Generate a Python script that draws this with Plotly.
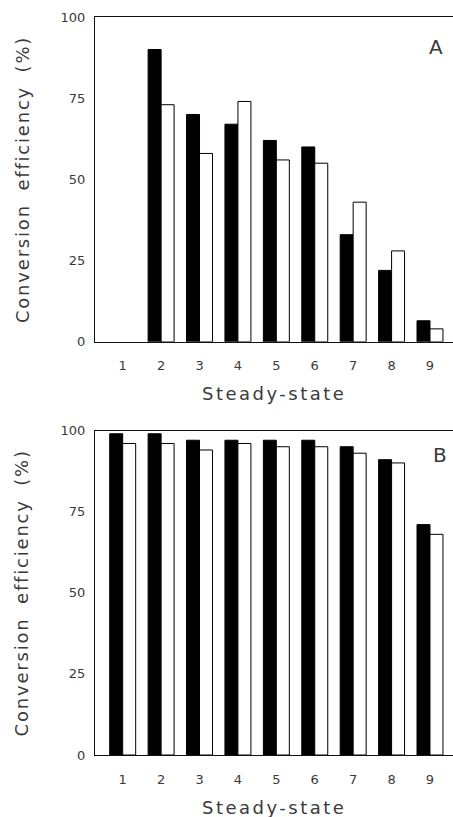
import plotly.graph_objects as go

steady_states = [1, 2, 3, 4, 5, 6, 7, 8, 9]
tick_labels = ["1", "2", "3", "4", "5", "6", "7", "8", "9"]
y_ticks = [0, 25, 50, 75, 100]

# Panel A
a_black = [None, 90, 70, 67, 62, 60, 33, 22, 6.5]
a_white = [None, 73, 58, 74, 56, 55, 43, 28, 4]
# Panel B
b_black = [99, 99, 97, 97, 97, 97, 95, 91, 71]
b_white = [96, 96, 94, 96, 95, 95, 93, 90, 68]

FONT = "DejaVu Sans"
TXT = "#3a3a3a"

fig = go.Figure()

def add_pair(black, white, xa, ya):
    fig.add_trace(go.Bar(x=steady_states, y=black, xaxis=xa, yaxis=ya,
                         marker=dict(color="black", line=dict(color="black", width=1)),
                         showlegend=False))
    fig.add_trace(go.Bar(x=steady_states, y=white, xaxis=xa, yaxis=ya,
                         marker=dict(color="white", line=dict(color="black", width=1)),
                         showlegend=False))

add_pair(a_black, a_white, "x", "y")
add_pair(b_black, b_white, "x2", "y2")

xcommon = dict(range=[0.279, 9.599], tickvals=steady_states, ticktext=tick_labels,
               showline=True, linecolor="#111", linewidth=1, mirror=True,
               showgrid=False, zeroline=False, ticks="", ticklabelstandoff=12,
               tickfont=dict(family=FONT, size=13, color=TXT))
ycommon = dict(range=[0, 100], tickvals=y_ticks,
               showline=True, linecolor="#111", linewidth=1, mirror=False,
               showgrid=False, zeroline=False, ticks="", ticklabelstandoff=6,
               tickfont=dict(family=FONT, size=13, color=TXT))

dA = [0.5598, 1.0]
dB = [0.0, 0.4397]

fig.update_layout(
    width=453, height=817,
    margin=dict(l=95, r=0, t=17, b=62),
    paper_bgcolor="white", plot_bgcolor="white",
    barmode="group", bargap=0.324, bargroupgap=0,
    xaxis=dict(**xcommon, anchor="y", domain=[0, 1]),
    yaxis=dict(**ycommon, anchor="x", domain=dA),
    xaxis2=dict(**xcommon, anchor="y2", domain=[0, 1]),
    yaxis2=dict(**ycommon, anchor="x2", domain=dB),
)

ann = []
for d in (dA, dB):
    ann.append(dict(text="Conversion efficiency (%)", xref="paper", yref="paper",
                    x=0, y=(d[0] + d[1]) / 2, xanchor="center", yanchor="middle",
                    xshift=-73, textangle=-90, showarrow=False, name="ytitle",
                    font=dict(family=FONT, size=18, color=TXT)))
    ann.append(dict(text="Steady-state", xref="paper", yref="paper",
                    x=0.5, y=d[0], xanchor="center", yanchor="middle",
                    yshift=-52, showarrow=False, name="xtitle",
                    font=dict(family=FONT, size=18, color=TXT)))
ann.append(dict(text="A", xref="paper", yref="paper", x=1, y=dA[1],
                xanchor="center", yanchor="middle", xshift=-17, yshift=-30,
                showarrow=False, font=dict(family=FONT, size=20, color=TXT)))
ann.append(dict(text="B", xref="paper", yref="paper", x=1, y=dB[1],
                xanchor="center", yanchor="middle", xshift=-13, yshift=-24,
                showarrow=False, font=dict(family=FONT, size=20, color=TXT)))
fig.update_layout(annotations=ann)

post = """
document.body.style.margin = '0';
document.body.style.overflow = 'hidden';
document.querySelectorAll('.annotation-text').forEach(function(t){
  var s = t.textContent;
  if (s.indexOf('Conversion') === 0) { t.style.letterSpacing = '1.8px'; t.style.wordSpacing = '6px'; }
  if (s.indexOf('Steady') === 0) { t.style.letterSpacing = '2.5px'; }
});
"""

fig.write_html("out.html", post_script=post, config={"displayModeBar": False})
